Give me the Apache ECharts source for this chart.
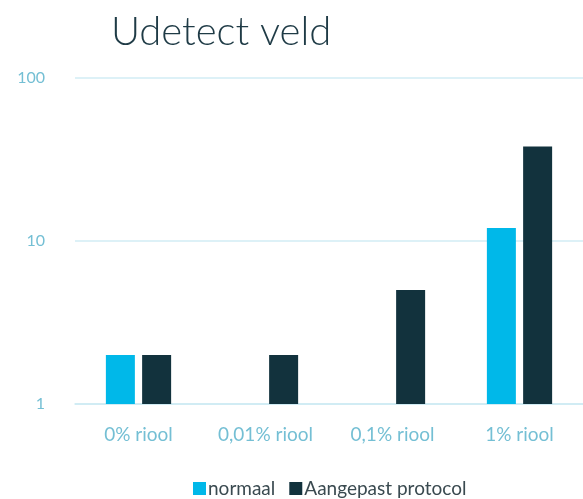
<!DOCTYPE html>
<html><head><meta charset="utf-8">
<script src="https://cdn.jsdelivr.net/npm/echarts@6/dist/echarts.min.js"></script>
<style>html,body{margin:0;padding:0;background:#fff}#c{width:583px;height:499px}</style>
</head><body><div id="c"></div>
<script>
const categories = ['0% riool', '0,01% riool', '0,1% riool', '1% riool'];
const normaal = [2, null, null, 12];
const aangepast = [2, 2, 5, 38];
const yTicks = [1, 10, 100];

const chart = echarts.init(document.getElementById('c'), null, {renderer: 'canvas'});
chart.setOption({
  animation: false,
  title: {
    text: 'Udetect veld', left: 106, top: 7,
    textStyle: {fontFamily: 'Lato', fontWeight: 300, fontSize: 40, color: '#1F3B46'}
  },
  legend: {
    bottom: -4, left: 188,
    itemWidth: 13, itemHeight: 13, itemGap: 14,
    icon: 'rect',
    textStyle: {fontFamily: 'Lato', fontSize: 19, color: '#3A4A50', padding: [0, 0, 0, -3]},
    data: ['normaal', 'Aangepast protocol']
  },
  grid: {left: 75, top: 78, width: 511, height: 326, containLabel: false},
  xAxis: {
    type: 'category', data: categories,
    axisLine: {show: true, lineStyle: {color: '#CDEAF3', width: 1.5}},
    axisTick: {show: false},
    axisLabel: {fontFamily: 'Lato', fontSize: 19, color: '#74BFD4', margin: 21}
  },
  yAxis: {
    type: 'log', logBase: 10, min: yTicks[0], max: yTicks[yTicks.length - 1],
    axisLine: {show: false}, axisTick: {show: false},
    splitLine: {lineStyle: {color: '#D2ECF4', width: 1.5}},
    axisLabel: {fontFamily: 'Lato', fontSize: 16, color: '#74BFD4', margin: 30}
  },
  series: [
    {name: 'normaal', type: 'bar', data: normaal, barWidth: 29, barGap: '25%',
     itemStyle: {color: '#00B8E9'}},
    {name: 'Aangepast protocol', type: 'bar', data: aangepast, barWidth: 29,
     itemStyle: {color: '#12323D'}}
  ]
});
</script></body></html>
